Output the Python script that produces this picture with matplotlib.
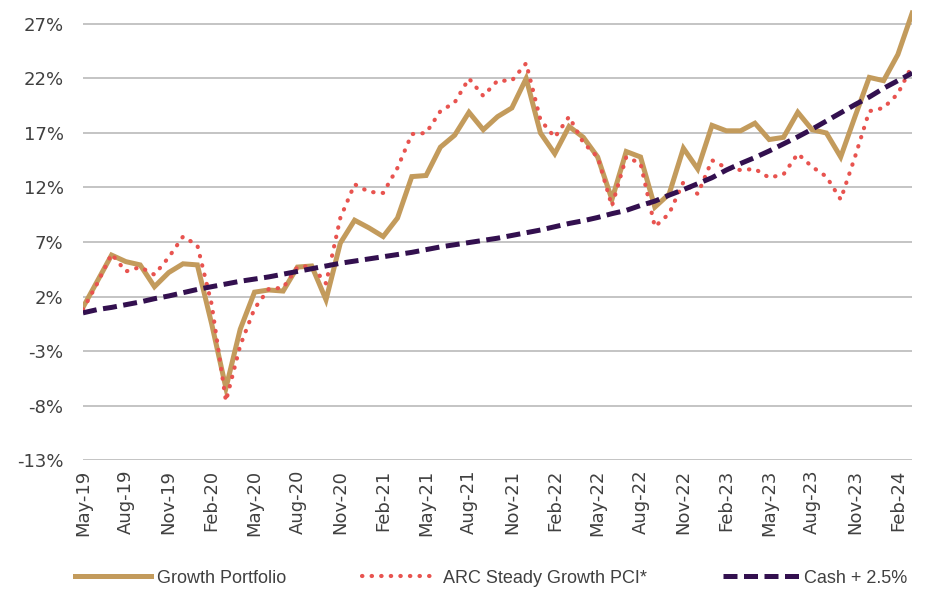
import numpy as np
import pandas as pd
import matplotlib.pyplot as plt

# monthly values, May-19 .. Mar-24 (cumulative return, %)
months = pd.date_range("2019-05-01", "2024-03-01", freq="MS").strftime("%b-%y").tolist()

growth = [1.0, 3.4, 5.8, 5.2, 4.9, 2.9, 4.2, 5.0, 4.9, -0.5,
          -6.4, -1.0, 2.4, 2.6, 2.5, 4.7, 4.8, 1.7, 6.9, 9.0,
          8.3, 7.5, 9.2, 13.0, 13.1, 15.7, 16.8, 18.9, 17.3, 18.5,
          19.3, 22.0, 17.0, 15.1, 17.6, 16.6, 14.8, 10.9, 15.3, 14.8,
          10.2, 11.4, 15.6, 13.7, 17.7, 17.2, 17.2, 17.9, 16.4, 16.6,
          18.9, 17.3, 17.0, 14.8, 18.5, 22.1, 21.8, 24.2, 28.0]

arc = [0.8, 3.2, 5.9, 4.3, 4.7, 4.0, 5.6, 7.5, 6.7, 1.3,
       -7.6, -2.5, 0.9, 2.7, 2.8, 4.7, 4.8, 3.2, 9.2, 12.3,
       11.6, 11.5, 13.8, 16.9, 17.0, 19.0, 19.8, 22.0, 20.4, 21.8,
       21.8, 23.4, 18.2, 16.6, 18.5, 16.1, 14.8, 10.3, 14.8, 14.2,
       8.4, 9.6, 12.5, 11.4, 14.5, 13.8, 13.6, 13.7, 12.9, 13.2,
       15.1, 13.9, 13.0, 10.9, 14.8, 19.0, 19.3, 20.6, 23.2]

cash = [0.5, 0.8, 1.0, 1.25, 1.5, 1.8, 2.05, 2.35, 2.65, 2.9,
        3.15, 3.4, 3.6, 3.8, 4.05, 4.3, 4.55, 4.8, 5.05, 5.25,
        5.45, 5.65, 5.85, 6.05, 6.3, 6.55, 6.75, 6.95, 7.15, 7.35,
        7.6, 7.85, 8.1, 8.4, 8.7, 8.95, 9.25, 9.6, 9.9, 10.35,
        10.75, 11.3, 11.8, 12.35, 12.9, 13.6, 14.2, 14.75, 15.35, 16.0,
        16.65, 17.35, 18.1, 18.85, 19.6, 20.3, 21.1, 21.8, 22.5]

yticks = [-13, -8, -3, 2, 7, 12, 17, 22, 27]

text_color = "#404040"
x = np.arange(len(months))

fig = plt.figure(figsize=(9.27, 5.90), dpi=100)
ax = fig.add_axes([0.0895, 0.2203, 0.8945, 0.776])

ax.plot(x, growth, color="#C39B5C", lw=3.6, solid_joinstyle="miter",
        label="Growth Portfolio", zorder=3)
ax.plot(x, arc, color="#E8534F", lw=3.0, linestyle=(0, (0.1, 2.2)),
        dash_capstyle="round", label="ARC Steady Growth PCI*", zorder=4)
ax.plot(x, cash, color="#33104F", lw=3.6, linestyle=(0, (2.8, 1.3)),
        label="Cash + 2.5%", zorder=5)

ax.set_xlim(0, len(months) - 1)
ax.set_ylim(-13, 29)
ax.set_yticks(yticks)
ax.set_yticklabels([f"{t}%" for t in yticks])
ax.set_xticks(x[::3])
ax.set_xticklabels(months[::3], rotation=90)

ax.grid(axis="y", color="#BFBFBF", lw=1.3)
ax.set_axisbelow(True)
for s in ax.spines.values():
    s.set_visible(False)
ax.tick_params(axis="both", length=0, labelsize=13, labelcolor=text_color)
ax.tick_params(axis="y", pad=14)
ax.tick_params(axis="x", pad=7)

fig.legend(loc="center", bbox_to_anchor=(0.53, 0.02), ncol=3, frameon=False,
           prop={"family": "Liberation Sans", "size": 13}, labelcolor=text_color,
           handlelength=4.2, columnspacing=4.2, handletextpad=0.3)

fig.savefig("out.png", dpi=100)
